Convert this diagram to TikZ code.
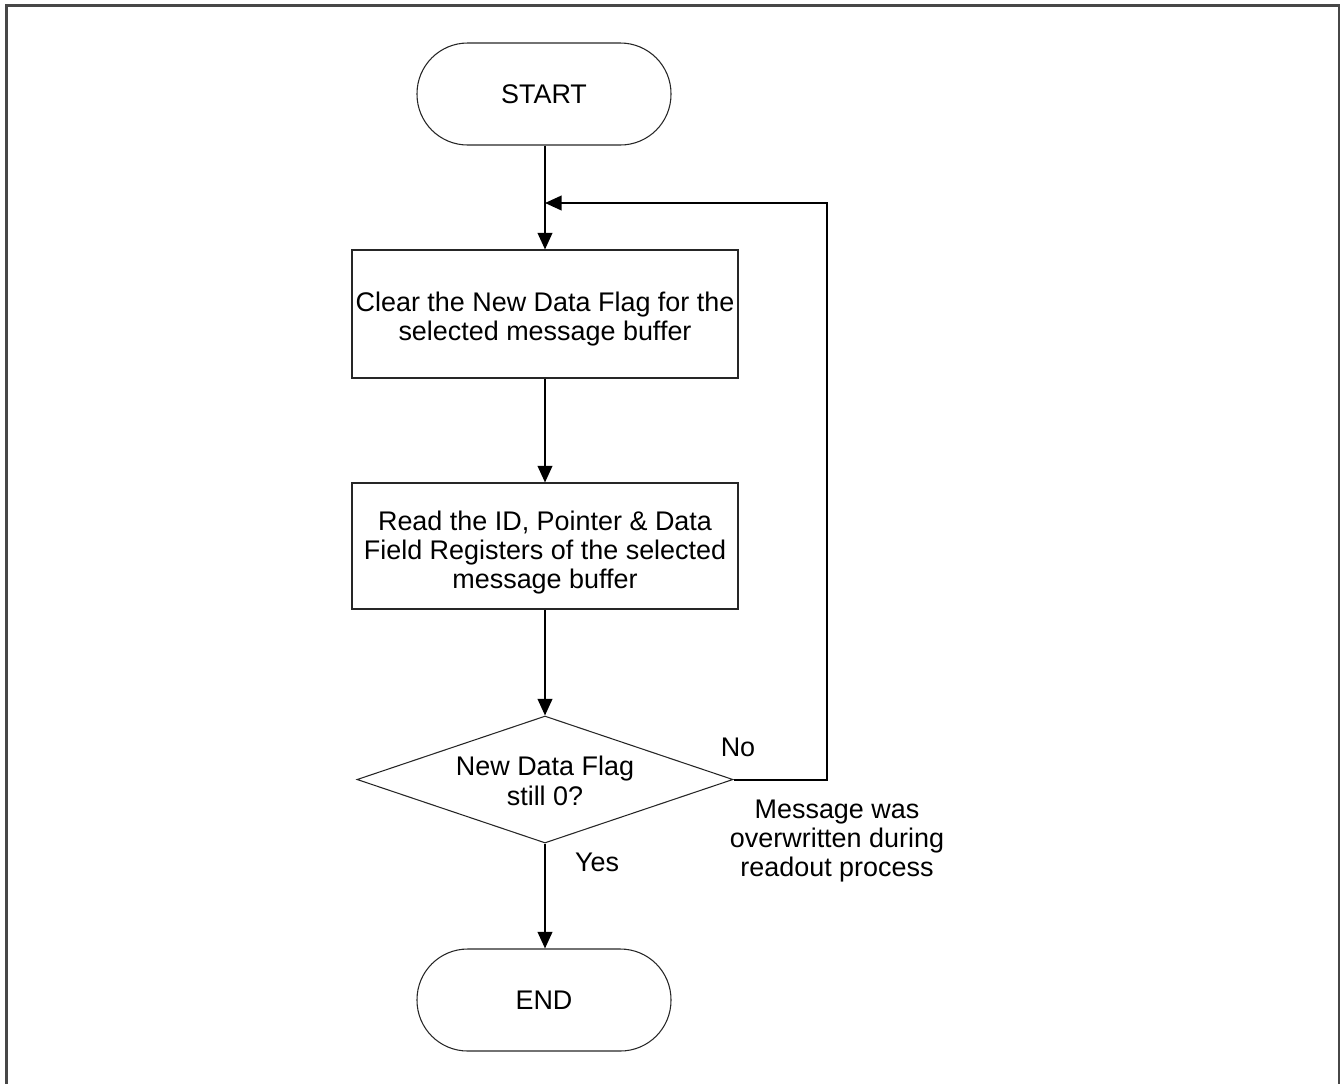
\documentclass[tikz,border=0pt]{standalone}
\usepackage{fontspec}
\setmainfont{Liberation Sans}
\usetikzlibrary{shapes.geometric,arrows.meta}
\begin{document}
\begin{tikzpicture}[x=0.75pt,y=-0.75pt,
  every node/.style={font=\fontsize{20.2}{22}\selectfont, text=black},
  shapeline/.style={draw=black!85, line width=0.8pt},
  plain/.style={inner sep=0pt, align=center, draw=none},
  terminal/.style={shapeline, rectangle, rounded corners=38pt, minimum width=190.5pt, minimum height=76.5pt, inner sep=0pt},
  procbox/.style={shapeline, rectangle, minimum width=289.5pt, inner sep=0pt},
  decision/.style={shapeline, diamond, minimum width=282pt, minimum height=95.25pt, inner sep=0pt},
  flow/.style={line width=1.5pt, black, -{Triangle[length=12.5pt,width=11pt]}}]
\useasboundingbox (0,0) rectangle (1341,1083);
\draw[line width=1.6pt, black!72] (6.5,1090) -- (6.5,5.5) -- (1339,5.5) -- (1339,1090);

\node[terminal] (start) at (544,94) {START};
\node[procbox, minimum height=96pt,
  label={[plain, yshift=-3.75pt]center:{Clear the New Data Flag for the\\selected message buffer}}] (box1) at (545,314) {};
\node[procbox, minimum height=94.5pt,
  label={[plain, yshift=-4.9pt]center:{Read the ID, Pointer \& Data\\Field Registers of the selected\\message buffer}}] (box2) at (545,546) {};
\node[decision,
  label={[plain, yshift=-1pt]center:{New Data Flag\\still 0?}}] (dec) at (545,779.5) {};
\node[terminal] (end) at (544,1000) {END};

\coordinate (join) at (545,203);
\coordinate (corner) at (827,779.5);

\draw[flow] (start.south -| box1.north) -- (box1.north);
\draw[flow] (box1) -- (box2);
\draw[flow] (box2) -- (dec);
\draw[flow] (dec.south) -- (dec.south |- end.north);
\draw[flow] (dec.east) -- (corner) |- (join);

\node[plain] (no) at (738,747) {No};
\node[plain] (yes) at (597,862) {Yes};
\node[plain] (msg) at (837,841) {Message was\\overwritten during\\readout process};
\end{tikzpicture}
\end{document}
